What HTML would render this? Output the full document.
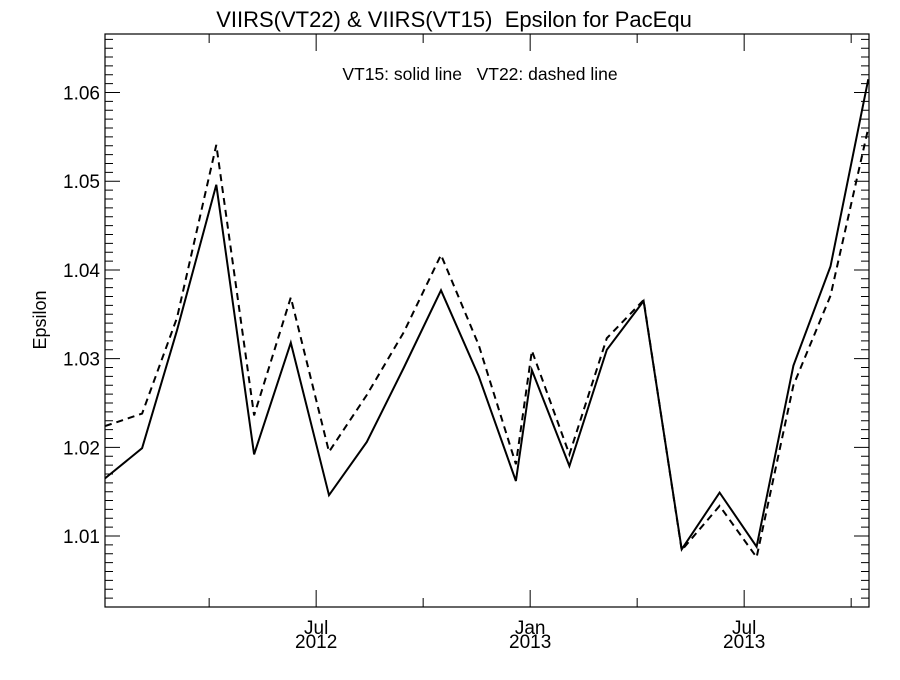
<!DOCTYPE html>
<html><head><meta charset="utf-8"><style>
body{margin:0;background:#fff}
svg text{font-family:"Liberation Sans",sans-serif;fill:#000;white-space:pre}
</style></head><body>
<svg id="chart" width="900" height="675" xmlns="http://www.w3.org/2000/svg">
<text x="454" y="27" font-size="22" text-anchor="middle" xml:space="preserve">VIIRS(VT22) &amp; VIIRS(VT15)  Epsilon for PacEqu</text>
<text x="480" y="80" font-size="17.5" text-anchor="middle" xml:space="preserve">VT15: solid line   VT22: dashed line</text>
<text x="46" y="320" font-size="18" text-anchor="middle" transform="rotate(-90 46 320)">Epsilon</text>
<g id="axes"></g>
<g id="series"></g>
</svg>
<script>
const months=[0.08,1.12,2.1,3.2,4.26,5.29,6.36,7.42,8.46,9.5,10.56,11.6,12.05,13.1,14.15,15.18,16.25,17.31,18.35,19.38,20.42,21.48];
const vt15=[1.0165,1.0199,1.0332,1.0496,1.0192,1.0318,1.0146,1.0206,1.0290,1.0377,1.0280,1.0162,1.0287,1.0179,1.0310,1.0365,1.0085,1.0149,1.0088,1.0292,1.0404,1.0615];
const vt22=[1.0224,1.0238,1.0346,1.0541,1.0236,1.0369,1.0195,1.0259,1.0330,1.0417,1.0315,1.0181,1.0309,1.0192,1.0323,1.0366,1.0084,1.0134,1.0076,1.0270,1.0371,1.0560];
const yTicks=[1.01,1.02,1.03,1.04,1.05,1.06];
const yTickLabels=["1.01","1.02","1.03","1.04","1.05","1.06"];
const xMajor=[6,12,18];
const xMajorLabels=[["Jul","2012"],["Jan","2013"],["Jul","2013"]];
const xMinor=[3,9,15,21];
const L=105,R=869,T=34,B=607;
const xMin=0.08,xMax=21.5,yMin=1.0020,yMax=1.0666;
const X=m=>L+(m-xMin)/(xMax-xMin)*(R-L);
const Y=v=>B-(v-yMin)/(yMax-yMin)*(B-T);
const NS="http://www.w3.org/2000/svg";
const axes=document.getElementById('axes'),ser=document.getElementById('series');
function mk(tag,attrs,parent){const e=document.createElementNS(NS,tag);for(const k in attrs)e.setAttribute(k,attrs[k]);parent.appendChild(e);return e;}
const frame=mk('rect',{x:L,y:T,width:R-L,height:B-T,fill:'none',stroke:'#000','stroke-width':1.2},axes);


for(let i=Math.ceil(yMin*1000);i<=Math.floor(yMax*1000);i++){
  const v=i/1000,y=Y(v),maj=i%10===0,len=maj?15:8;
  const t=mk('path',{d:`M${L} ${y}h${len}M${R} ${y}h${-len}`,stroke:'#000','stroke-width':1},axes);
  
  
}
yTicks.forEach((v,i)=>{
  const t=mk('text',{x:L-5,y:Y(v)+7,'font-size':19,'text-anchor':'end'},axes);t.textContent=yTickLabels[i];
  
  
});
xMajor.forEach((m,i)=>{
  const x=X(m);
  const t=mk('path',{d:`M${x} ${B}v-17M${x} ${T}v17`,stroke:'#000','stroke-width':1},axes);
  
  
  const a=mk('text',{x:x,y:B+27,'font-size':19,'text-anchor':'middle'},axes);a.textContent=xMajorLabels[i][0];
  
  
  const b=mk('text',{x:x,y:B+41,'font-size':19,'text-anchor':'middle'},axes);b.textContent=xMajorLabels[i][1];
  
  
});
xMinor.forEach(m=>{
  const x=X(m);
  const t=mk('path',{d:`M${x} ${B}v-9M${x} ${T}v9`,stroke:'#000','stroke-width':1},axes);
  
  
});
function line(vals,dash,name){
  const d=vals.map((v,i)=>(i?'L':'M')+X(months[i]).toFixed(1)+' '+Y(v).toFixed(1)).join('');
  const p=mk('path',{d:d,fill:'none',stroke:'#000','stroke-width':2,'stroke-dasharray':dash},ser);
  
  
}
line(vt22,'7 5','vt22-dashed-line');
line(vt15,'none','vt15-solid-line');
</script>
</body></html>
